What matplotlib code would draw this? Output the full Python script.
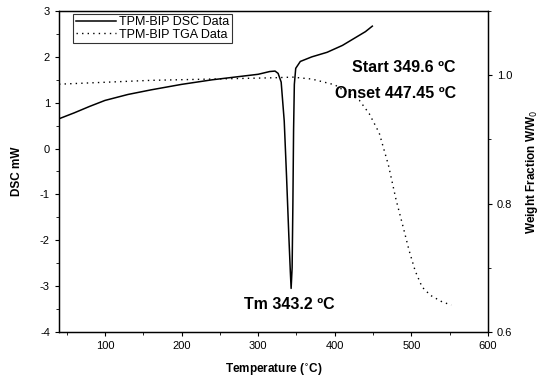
import matplotlib
matplotlib.use("Agg")
import matplotlib.pyplot as plt
import numpy as np
from matplotlib.ticker import MultipleLocator

plt.rcParams["font.family"] = ["Liberation Sans", "DejaVu Sans"]
plt.rcParams["axes.unicode_minus"] = False

# DSC curve (left axis, mW)
dsc_temp = [40, 60, 80, 100, 130, 160, 200, 240, 280, 300, 315, 322, 326, 330, 334,
            337, 340, 342, 343, 344.3, 345.3, 346.2, 347.2, 349, 355, 370, 390,
            410, 428, 440, 449]
dsc_val = [0.65, 0.78, 0.92, 1.05, 1.18, 1.28, 1.40, 1.50, 1.58, 1.62, 1.68, 1.69,
           1.64, 1.45, 0.6, -0.6, -1.9, -2.7, -3.05, -2.6, -1.2, 0.4, 1.4, 1.75,
           1.9, 2.0, 2.1, 2.25, 2.43, 2.55, 2.67]

# TGA curve (right axis, weight fraction)
tga_temp = [40, 80, 120, 160, 200, 240, 280, 320, 345, 370, 400, 432, 445, 458,
            470, 480, 490, 497, 505, 514, 525, 540, 552]
tga_val = [0.986, 0.988, 0.990, 0.992, 0.993, 0.994, 0.995, 0.996, 0.997, 0.994,
           0.985, 0.961, 0.94, 0.91, 0.86, 0.806, 0.76, 0.727, 0.695, 0.670,
           0.657, 0.647, 0.642]

fig = plt.figure(figsize=(5.48, 3.85), dpi=100)
ax = fig.add_axes([0.1077, 0.1377, 0.7828, 0.8337])
ax2 = ax.twinx()

l1, = ax.plot(dsc_temp, dsc_val, color="black", lw=1.1, label="TPM-BIP DSC Data")
l2, = ax2.plot(tga_temp, tga_val, color="black", lw=1.0, ls=(0, (1, 3)),
               label="TPM-BIP TGA Data")

ax.set_xlim(40, 600)
ax.set_ylim(-4, 3)
ax2.set_ylim(0.6, 1.1)

ax.xaxis.set_major_locator(MultipleLocator(100))
ax.xaxis.set_minor_locator(MultipleLocator(50))
ax.yaxis.set_major_locator(MultipleLocator(1))
ax.yaxis.set_minor_locator(MultipleLocator(0.5))
ax2.yaxis.set_minor_locator(MultipleLocator(0.1))
ax2.set_yticks([0.6, 0.8, 1.0])
ax2.set_yticklabels(["0.6", "0.8", "1.0"])

for a in (ax, ax2):
    a.tick_params(which="major", direction="out", length=3, width=0.8, labelsize=8)
    a.tick_params(which="minor", direction="out", length=2, width=0.6)
    for s in a.spines.values():
        s.set_linewidth(0.9)

ax.set_xlabel("Temperature ($^{\\circ}$C)", fontsize=8.5, fontweight="bold", labelpad=8)
ax.set_ylabel("DSC mW", fontsize=8.5, fontweight="bold", labelpad=12)
ax2.set_ylabel("Weight Fraction W/W$_0$", fontsize=8.5, fontweight="bold", labelpad=8)

ax.text(558, 1.76, "Start 349.6 ºC", ha="right", va="center", fontsize=11.5,
        fontweight="bold")
ax.text(558, 1.21, "Onset 447.45 ºC", ha="right", va="center", fontsize=11.5,
        fontweight="bold")
ax.text(341, -3.4, "Tm 343.2 ºC", ha="center", va="center", fontsize=11.5,
        fontweight="bold")

leg = ax.legend(handles=[l1, l2], loc="upper left", bbox_to_anchor=(0.033, 0.992),
                fontsize=9, frameon=True, fancybox=False, edgecolor="black",
                handlelength=3.2, borderpad=0.2, labelspacing=0.05, handletextpad=0.3,
                borderaxespad=0)
leg.get_frame().set_linewidth(0.8)

fig.savefig("out.png", dpi=100)
